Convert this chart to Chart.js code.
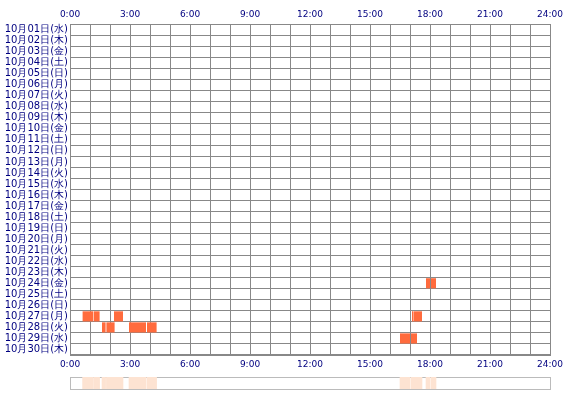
<!DOCTYPE html>
<html><head><meta charset="utf-8">
<script src="https://cdn.jsdelivr.net/npm/chart.js@4/dist/chart.umd.min.js"></script>
<style>body{margin:0;background:#fff}#w{position:relative;width:570px;height:400px}</style>
</head><body><div id="w"><div style="position:absolute;top:0;left:0;width:570px;height:400px"><canvas id="c"></canvas></div><div style="position:absolute;top:376px;left:0;width:570px;height:14px"><canvas id="s"></canvas></div></div>
<script>
const days = ["10月01日(水)","10月02日(木)","10月03日(金)","10月04日(土)","10月05日(日)","10月06日(月)","10月07日(火)","10月08日(水)","10月09日(木)","10月10日(金)","10月11日(土)","10月12日(日)","10月13日(月)","10月14日(火)","10月15日(水)","10月16日(木)","10月17日(金)","10月18日(土)","10月19日(日)","10月20日(月)","10月21日(火)","10月22日(水)","10月23日(木)","10月24日(金)","10月25日(土)","10月26日(日)","10月27日(月)","10月28日(火)","10月29日(水)","10月30日(木)"];
const barDays = ["10月24日(金)","10月24日(金)","10月27日(月)","10月27日(月)","10月27日(月)","10月27日(月)","10月27日(月)","10月28日(火)","10月28日(火)","10月28日(火)","10月28日(火)","10月29日(水)","10月29日(水)"];
const barStart = [17.8,18.05,0.63,1.2,2.2,17.1,17.17,1.6,1.82,2.95,3.85,16.5,17.05];
const barEnd   = [18.0,18.3,1.17,1.48,2.65,17.15,17.6,1.78,2.23,3.8,4.33,17.0,17.35];
const hourTicks = ["0:00","3:00","6:00","9:00","12:00","15:00","18:00","21:00","24:00"];
const navy = '#000080', grid = '#888';
const tick = v => v % 3 === 0 ? hourTicks[v/3] : '';
const xAxis = pos => ({type:'linear',position:pos,min:0,max:24,
  grid:{color:grid,drawTicks:false},border:{color:grid},
  ticks:{stepSize:1,autoSkip:false,maxRotation:0,callback:tick,color:navy,font:{family:'DejaVu Sans',size:9},padding:4}});
const main = barDays.map((d,i)=>({y:d,x:[barStart[i],barEnd[i]]}));
new Chart(document.getElementById('c'),{type:'bar',
  data:{labels:days,datasets:[{data:main,backgroundColor:'#FF6B3D',borderWidth:0,barPercentage:1,categoryPercentage:0.92}]},
  options:{indexAxis:'y',responsive:true,maintainAspectRatio:false,animation:false,
    layout:{padding:{left:0,right:20,top:0,bottom:0}},
    plugins:{legend:{display:false},tooltip:{enabled:false}},
    scales:{
      x:{...xAxis('bottom'),afterFit:s=>{s.height=45}},
      x2:{...xAxis('top'),afterFit:s=>{s.height=24}},
      y:{type:'category',offset:true,grid:{offset:true,color:grid,drawTicks:false},border:{color:grid},
        ticks:{color:navy,font:{family:'DejaVu Sans',size:10},padding:2,autoSkip:false},afterFit:s=>{s.width=70}}
    }}});
const strip = barDays.map((d,i)=>({y:'all',x:[barStart[i],barEnd[i]]}));
new Chart(document.getElementById('s'),{type:'bar',
  data:{labels:['all'],datasets:[{data:strip,backgroundColor:'#FDE3D2',borderWidth:0,barPercentage:1,categoryPercentage:1}]},
  options:{indexAxis:'y',responsive:true,maintainAspectRatio:false,animation:false,
    layout:{padding:{left:70,right:20,top:1,bottom:1}},
    plugins:{legend:{display:false},tooltip:{enabled:false}},
    scales:{x:{type:'linear',min:0,max:24,grid:{display:false,drawTicks:false},ticks:{display:false},border:{color:'#bbb'},afterFit:s=>{s.height=0}},
      x2:{type:'linear',position:'top',min:0,max:24,grid:{display:false,drawTicks:false},ticks:{display:false},border:{color:'#bbb'},afterFit:s=>{s.height=0}},
      y:{type:'category',grid:{display:false,drawTicks:false},ticks:{display:false},border:{color:'#bbb'},afterFit:s=>{s.width=0}},
      y2:{type:'category',position:'right',grid:{display:false,drawTicks:false},ticks:{display:false},border:{color:'#bbb'},afterFit:s=>{s.width=0}}}}});
</script></body></html>
